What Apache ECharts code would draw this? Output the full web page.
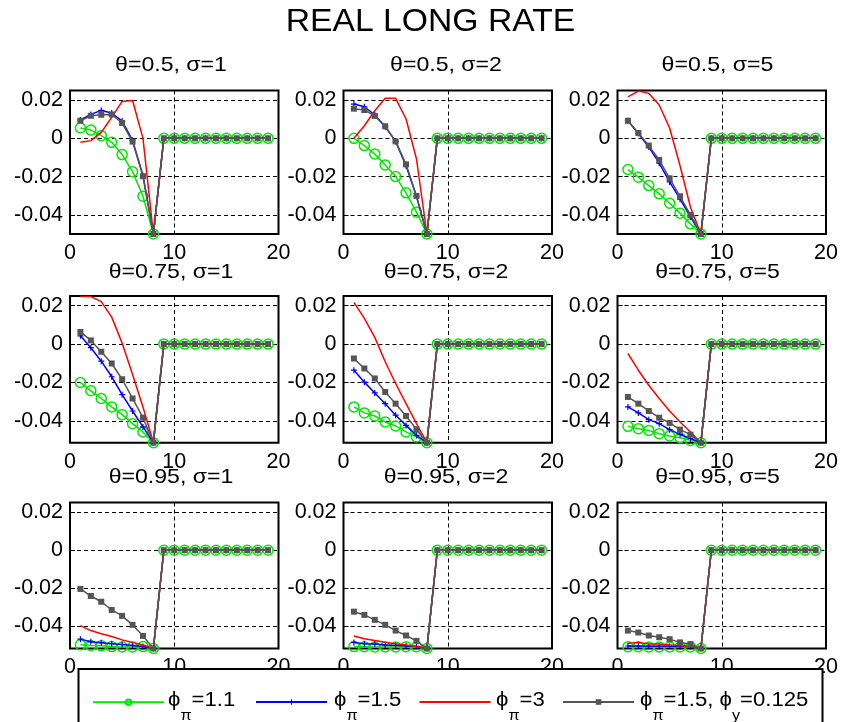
<!DOCTYPE html>
<html>
<head>
<meta charset="utf-8">
<script src="https://cdn.jsdelivr.net/npm/echarts@6/dist/echarts.min.js"></script>
<style>html,body{margin:0;padding:0;background:#fff;}#chart{width:841px;height:722px;}</style>
</head>
<body>
<div id="chart"></div>
<script>
// ---------------- data ----------------
const horizon = [1,2,3,4,5,6,7,8,9,10,11,12,13,14,15,16,17,18,19];
const thetaLabels = ['0.5', '0.75', '0.95'];
const sigmaLabels = ['1', '2', '5'];
const yTicks = [-0.04, -0.02, 0, 0.02];
const seriesNames = ['phi_pi=1.1', 'phi_pi=1.5', 'phi_pi=3', 'phi_pi=1.5, phi_y=0.125'];
const legendLabels = ['{m|ϕ}{s|π}{m|=1.1}', '{m|ϕ}{s|π}{m|=1.5}', '{m|ϕ}{s|π}{m|=3}',
                      '{m|ϕ}{s|π}{m|=1.5, ϕ}{s|y}{m|=0.125}'];
const rowYMin = [-0.05, -0.0513, -0.0515];
const yMax = 0.025;

// theta = 0.5
const green_05_1 = [0.0054,0.0043,0.0014,-0.0021,-0.0085,-0.0174,-0.0303,-0.05,0,0,0,0,0,0,0,0,0,0,0];
const blue_05_1  = [0.0096,0.0125,0.0146,0.0132,0.0090,-0.0010,-0.0195,-0.05,0,0,0,0,0,0,0,0,0,0,0];
const red_05_1   = [-0.0021,-0.0012,0.0031,0.0110,0.0193,0.0198,0.0000,-0.05,0,0,0,0,0,0,0,0,0,0,0];
const gray_05_1  = [0.0092,0.0118,0.0123,0.0125,0.0080,-0.0017,-0.0198,-0.05,0,0,0,0,0,0,0,0,0,0,0];

const green_05_2 = [0.0000,-0.0038,-0.0082,-0.0139,-0.0200,-0.0285,-0.0386,-0.05,0,0,0,0,0,0,0,0,0,0,0];
const blue_05_2  = [0.0179,0.0165,0.0122,0.0061,-0.0016,-0.0143,-0.0303,-0.05,0,0,0,0,0,0,0,0,0,0,0];
const red_05_2   = [0.0000,0.0066,0.0144,0.0209,0.0209,0.0101,-0.0108,-0.05,0,0,0,0,0,0,0,0,0,0,0];
const gray_05_2  = [0.0155,0.0148,0.0117,0.0063,-0.0016,-0.0136,-0.0301,-0.05,0,0,0,0,0,0,0,0,0,0,0];

const green_05_5 = [-0.0163,-0.0203,-0.0247,-0.0290,-0.0339,-0.0391,-0.0447,-0.05,0,0,0,0,0,0,0,0,0,0,0];
const blue_05_5  = [0.0092,0.0025,-0.0045,-0.0130,-0.0228,-0.0318,-0.0410,-0.05,0,0,0,0,0,0,0,0,0,0,0];
const red_05_5   = [0.0217,0.0247,0.0235,0.0174,0.0054,-0.0143,-0.0360,-0.05,0,0,0,0,0,0,0,0,0,0,0];
const gray_05_5  = [0.0092,0.0028,-0.0038,-0.0113,-0.0209,-0.0303,-0.0400,-0.05,0,0,0,0,0,0,0,0,0,0,0];

// theta = 0.75
const green_075_1 = [-0.0200,-0.0243,-0.0283,-0.0327,-0.0367,-0.0414,-0.0457,-0.0513,0,0,0,0,0,0,0,0,0,0,0];
const blue_075_1  = [0.0043,-0.0019,-0.0089,-0.0170,-0.0263,-0.0348,-0.0431,-0.0513,0,0,0,0,0,0,0,0,0,0,0];
const red_075_1   = [0.0247,0.0247,0.0221,0.0140,0.0005,-0.0158,-0.0327,-0.0513,0,0,0,0,0,0,0,0,0,0,0];
const gray_075_1  = [0.0063,0.0019,-0.0040,-0.0101,-0.0183,-0.0283,-0.0383,-0.0513,0,0,0,0,0,0,0,0,0,0,0];

const green_075_2 = [-0.0327,-0.0358,-0.0374,-0.0405,-0.0426,-0.0457,-0.0483,-0.0513,0,0,0,0,0,0,0,0,0,0,0];
const blue_075_2  = [-0.0136,-0.0198,-0.0254,-0.0310,-0.0370,-0.0423,-0.0475,-0.0513,0,0,0,0,0,0,0,0,0,0,0];
const red_075_2   = [0.0217,0.0134,0.0035,-0.0092,-0.0205,-0.0310,-0.0414,-0.0513,0,0,0,0,0,0,0,0,0,0,0];
const gray_075_2  = [-0.0075,-0.0127,-0.0179,-0.0249,-0.0310,-0.0374,-0.0443,-0.0513,0,0,0,0,0,0,0,0,0,0,0];

const green_075_5 = [-0.0428,-0.0440,-0.0449,-0.0466,-0.0478,-0.0487,-0.0501,-0.0513,0,0,0,0,0,0,0,0,0,0,0];
const blue_075_5  = [-0.0327,-0.0358,-0.0393,-0.0414,-0.0445,-0.0470,-0.0492,-0.0513,0,0,0,0,0,0,0,0,0,0,0];
const red_075_5   = [-0.0049,-0.0136,-0.0214,-0.0283,-0.0348,-0.0405,-0.0457,-0.0513,0,0,0,0,0,0,0,0,0,0,0];
const gray_075_5  = [-0.0275,-0.0310,-0.0348,-0.0383,-0.0410,-0.0445,-0.0471,-0.0513,0,0,0,0,0,0,0,0,0,0,0];

// theta = 0.95
const green_095_1 = [-0.0496,-0.0499,-0.0501,-0.0505,-0.0507,-0.0507,-0.0505,-0.0515,0,0,0,0,0,0,0,0,0,0,0];
const blue_095_1  = [-0.0466,-0.0480,-0.0485,-0.0490,-0.0494,-0.0499,-0.0504,-0.0515,0,0,0,0,0,0,0,0,0,0,0];
const red_095_1   = [-0.0395,-0.0421,-0.0438,-0.0452,-0.0470,-0.0483,-0.0497,-0.0515,0,0,0,0,0,0,0,0,0,0,0];
const gray_095_1  = [-0.0203,-0.0240,-0.0270,-0.0313,-0.0344,-0.0391,-0.0449,-0.0515,0,0,0,0,0,0,0,0,0,0,0];

const green_095_2 = [-0.0505,-0.0506,-0.0507,-0.0507,-0.0507,-0.0506,-0.0506,-0.0515,0,0,0,0,0,0,0,0,0,0,0];
const blue_095_2  = [-0.0483,-0.0490,-0.0492,-0.0497,-0.0499,-0.0501,-0.0504,-0.0515,0,0,0,0,0,0,0,0,0,0,0];
const red_095_2   = [-0.0449,-0.0464,-0.0473,-0.0482,-0.0490,-0.0497,-0.0504,-0.0515,0,0,0,0,0,0,0,0,0,0,0];
const gray_095_2  = [-0.0322,-0.0339,-0.0365,-0.0391,-0.0421,-0.0447,-0.0475,-0.0515,0,0,0,0,0,0,0,0,0,0,0];

const green_095_5 = [-0.0506,-0.0506,-0.0507,-0.0507,-0.0507,-0.0507,-0.0507,-0.0515,0,0,0,0,0,0,0,0,0,0,0];
const blue_095_5  = [-0.0502,-0.0502,-0.0503,-0.0503,-0.0503,-0.0504,-0.0505,-0.0515,0,0,0,0,0,0,0,0,0,0,0];
const red_095_5   = [-0.0487,-0.0483,-0.0492,-0.0492,-0.0496,-0.0501,-0.0504,-0.0515,0,0,0,0,0,0,0,0,0,0,0];
const gray_095_5  = [-0.0421,-0.0431,-0.0447,-0.0456,-0.0466,-0.0483,-0.0492,-0.0515,0,0,0,0,0,0,0,0,0,0,0];

const panelData = [
  [green_05_1, blue_05_1, red_05_1, gray_05_1],
  [green_05_2, blue_05_2, red_05_2, gray_05_2],
  [green_05_5, blue_05_5, red_05_5, gray_05_5],
  [green_075_1, blue_075_1, red_075_1, gray_075_1],
  [green_075_2, blue_075_2, red_075_2, gray_075_2],
  [green_075_5, blue_075_5, red_075_5, gray_075_5],
  [green_095_1, blue_095_1, red_095_1, gray_095_1],
  [green_095_2, blue_095_2, red_095_2, gray_095_2],
  [green_095_5, blue_095_5, red_095_5, gray_095_5]
];

// ---------------- layout & style ----------------
const FONT = '"Liberation Sans", Arial, "DejaVu Sans", sans-serif';
const colLeft = [70, 343.5, 617.5];
const colWidth = 208.5;
const rowTop = [90.5, 296, 502.5];
const rowHeight = [143.5, 146.7, 146];
const titleX = [171, 446, 717.5];
const titleY = [65.5, 272, 477];

const styles = [
  { color: '#00e600', symbol: 'circle', symbolSize: 10, hollow: true },
  { color: '#0000ff', symbol: 'path://M4,0H6V4H10V6H6V10H4V6H0V4H4Z', symbolSize: 6 },
  { color: '#ff0000', symbol: 'none', symbolSize: 0 },
  { color: '#555555', symbol: 'rect', symbolSize: 6 }
];

const grids = [], xAxes = [], yAxes = [], series = [], graphics = [];

graphics.push({
  type: 'text', x: 430.5, y: 22, z: 50, scaleX: 1.087,
  style: { text: 'REAL LONG RATE', fontSize: 31, fontFamily: FONT, fill: '#000',
           textAlign: 'center', textVerticalAlign: 'middle' }
});

for (let r = 0; r < 3; r++) {
  for (let c = 0; c < 3; c++) {
    const p = r * 3 + c;
    grids.push({
      left: colLeft[c], top: rowTop[r], width: colWidth, height: rowHeight[r],
      show: true, borderColor: '#000', borderWidth: 2, backgroundColor: 'transparent'
    });
    xAxes.push({
      type: 'value', gridIndex: p, min: 0, max: 20, interval: 10,
      axisLine: { show: false },
      axisTick: { show: true, inside: true, length: 5, lineStyle: { color: '#000' } },
      axisLabel: { color: '#000', fontFamily: FONT, fontSize: 21.5, margin: 8 },
      splitLine: { show: true, lineStyle: { color: '#000', type: [4, 3], width: 1 } }
    });
    yAxes.push({
      type: 'value', gridIndex: p, min: rowYMin[r], max: yMax,
      axisLine: { show: false },
      axisTick: { show: true, inside: true, length: 5, customValues: yTicks, lineStyle: { color: '#000' } },
      axisLabel: { color: '#000', fontFamily: FONT, fontSize: 21.5, margin: 7, customValues: yTicks,
                   formatter: v => String(Math.round(v * 100) / 100) },
      splitLine: { show: true, lineStyle: { color: '#000', type: [4, 3], width: 1 } }
    });
    graphics.push({
      type: 'text', x: titleX[c], y: titleY[r], z: 50, scaleX: 1.1,
      style: { text: 'θ=' + thetaLabels[r] + ', σ=' + sigmaLabels[c], fontSize: 21, fontFamily: FONT,
               fill: '#000', textAlign: 'center', textVerticalAlign: 'middle' }
    });
    panelData[p].forEach((vals, k) => {
      const st = styles[k];
      series.push({
        type: 'line', name: seriesNames[k], xAxisIndex: p, yAxisIndex: p,
        data: horizon.map((h, i) => [h, vals[i]]),
        symbol: st.symbol, symbolSize: st.symbolSize, showSymbol: st.symbol !== 'none',
        showAllSymbol: true,
        clip: false, animation: false, silent: true, z: 3 + k,
        lineStyle: { color: st.color, width: 1.5 },
        itemStyle: st.hollow
          ? { color: 'rgba(255,255,255,0)', borderColor: st.color, borderWidth: 1.5 }
          : { color: st.color, borderWidth: 0 }
      });
    });
  }
}

// legend frame
graphics.push({
  type: 'rect', z: 40,
  shape: { x: 78.5, y: 669, width: 744, height: 80 },
  style: { fill: '#fff', stroke: '#000', lineWidth: 2 }
});

const legendIconX = [92, 255, 418.5, 562];
const legendTextX = [168, 334, 496, 640];
legendLabels.forEach((lab, i) => {
  graphics.push({
    type: 'text', x: legendTextX[i], y: 700, z: 70, scaleX: 1.08,
    style: {
      text: lab, textAlign: 'left', textVerticalAlign: 'middle', fill: '#000',
      fontFamily: FONT, fontSize: 20.5,
      rich: {
        m: { fill: '#000', fontFamily: FONT, fontSize: 20.5 },
        s: { fill: '#000', fontFamily: FONT, fontSize: 15, padding: [32, 0, 0, 0] }
      }
    }
  });
});

const legendItemH = 7;
const legends = seriesNames.map((n, i) => ({
  data: [n], left: legendIconX[i], top: 702 - legendItemH / 2, padding: 0, z: 60,
  itemWidth: 71, itemHeight: legendItemH, selectedMode: false,
  itemStyle: i === 2 ? { opacity: 0 } : {},
  formatter: () => '',
  textStyle: { fontSize: 1 }
}));

const chart = echarts.init(document.getElementById('chart'), null, { renderer: 'canvas' });
chart.setOption({
  backgroundColor: '#fff',
  animation: false,
  grid: grids, xAxis: xAxes, yAxis: yAxes, series: series,
  legend: legends, graphic: graphics
});
</script>
</body>
</html>
